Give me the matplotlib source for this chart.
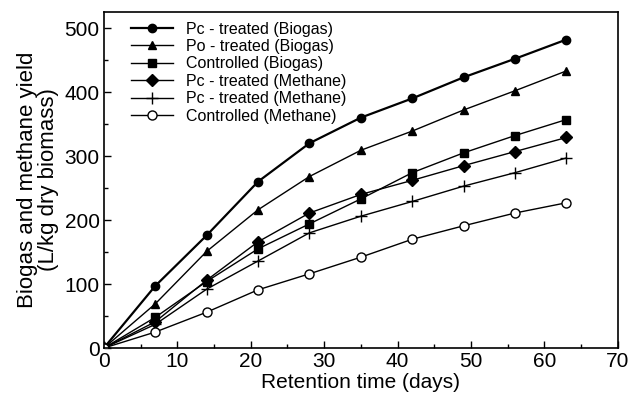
import matplotlib
matplotlib.use("Agg")
import matplotlib.pyplot as plt
from matplotlib.ticker import MultipleLocator

plt.rcParams['font.family'] = ['Liberation Sans', 'DejaVu Sans']

days = [0, 7, 14, 21, 28, 35, 42, 49, 56, 63]
pc_biogas = [0, 97, 176, 260, 320, 360, 390, 423, 452, 482]
po_biogas = [0, 69, 151, 216, 268, 309, 339, 372, 402, 433]
ctrl_biogas = [0, 48, 104, 155, 194, 233, 274, 305, 332, 357]
pc_methane = [0, 41, 106, 166, 211, 240, 262, 285, 307, 329]
pc_methane2 = [0, 37, 92, 136, 180, 206, 229, 253, 274, 297]
ctrl_methane = [0, 25, 56, 91, 116, 142, 170, 191, 211, 227]

labels = ["Pc - treated (Biogas)", "Po - treated (Biogas)", "Controlled (Biogas)",
          "Pc - treated (Methane)", "Pc - treated (Methane)", "Controlled (Methane)"]

fig = plt.figure(figsize=(6.33, 4.01), dpi=100)
ax = fig.add_axes([0.164, 0.132, 0.812, 0.838])

ax.plot(days, pc_biogas, '-o', color='black', lw=1.6, ms=6, label=labels[0])
ax.plot(days, po_biogas, '-^', color='black', lw=1.0, ms=6, label=labels[1])
ax.plot(days, ctrl_biogas, '-s', color='black', lw=1.0, ms=6, label=labels[2])
ax.plot(days, pc_methane, '-D', color='black', lw=1.0, ms=6, label=labels[3])
ax.plot(days, pc_methane2, '-+', color='black', lw=1.0, ms=8, mew=1.0, label=labels[4])
ax.plot(days, ctrl_methane, '-o', color='black', lw=1.0, ms=6.5, mfc='white', mew=1.0, label=labels[5])

ax.set_xlim(0, 70)
ax.set_ylim(0, 525)
ax.xaxis.set_major_locator(MultipleLocator(10))
ax.xaxis.set_minor_locator(MultipleLocator(5))
ax.yaxis.set_major_locator(MultipleLocator(100))
ax.yaxis.set_minor_locator(MultipleLocator(50))
ax.tick_params(which='both', direction='in', top=False, right=False, labelsize=15)
ax.tick_params(which='major', length=5, width=1, pad=3)
ax.tick_params(which='minor', length=3, width=1)
for s in ax.spines.values():
    s.set_linewidth(1.2)

ax.set_xlabel("Retention time (days)", fontsize=15, labelpad=1)
ax.set_ylabel("Biogas and methane yield\n(L/kg dry biomass)", fontsize=16,
              labelpad=4, linespacing=1.0)

ax.legend(loc='upper left', frameon=False, fontsize=11.5, handlelength=2.6,
          handletextpad=0.8, labelspacing=0.15, borderaxespad=0.2,
          bbox_to_anchor=(0.035, 1.0))

fig.savefig("out.png", dpi=100)
